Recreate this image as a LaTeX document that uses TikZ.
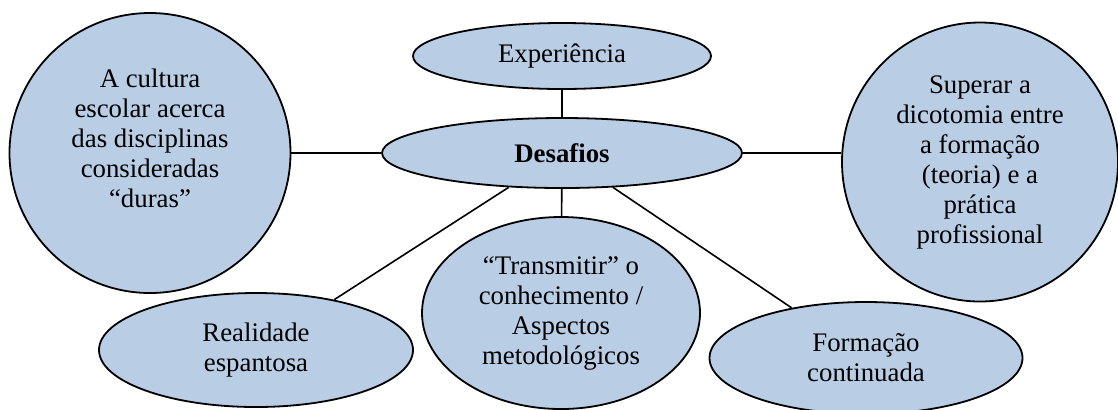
\documentclass[tikz,border=0pt]{standalone}
\usepackage{fontspec}
\setmainfont{Liberation Serif}
\usepackage{xcolor}
\usetikzlibrary{shapes,positioning}

\definecolor{bubblefill}{RGB}{185,205,229}

\begin{document}
\begin{tikzpicture}[x=0.5pt, y=-0.5pt,
    bubble/.style={ellipse, draw, line width=0.9pt, fill=bubblefill, inner sep=2pt,
        align=center, font=\fontsize{13.4}{15}\selectfont},
    link/.style={draw, line width=0.8pt}]
    \useasboundingbox (0,0) rectangle (1118,409);

    \node[bubble, minimum width=180pt, minimum height=35pt, font=\fontsize{13.4}{15}\selectfont\bfseries] (desafios) at (562,153) {Desafios};
    \node[bubble, minimum width=149pt, minimum height=33pt] (experiencia) at (562,56) {Experiência};

    % Side circles
    \node[bubble, minimum width=140.5pt, minimum height=140pt] (cultura) at (150,153)
        {A cultura\\ escolar acerca\\ das disciplinas\\ consideradas\\ “duras”\\ ~};
    \node[bubble, minimum width=138pt, minimum height=139.5pt] (superar) at (980,162)
        {Superar a\\ dicotomia entre\\ a formação\\ (teoria) e a\\ prática\\ profissional};

    % Lower row
    \node[bubble, minimum width=157pt, minimum height=57pt] (realidade) at (256,350)
        {Realidade\\ espantosa};
    \node[bubble, minimum width=139pt, minimum height=96pt] (transmitir) at (561,313)
        {“Transmitir” o\\ conhecimento /\\ Aspectos\\ metodológicos};
    \node[bubble, minimum width=156.5pt, minimum height=56pt] (formacao) at (866,358)
        {Formação\\ continuada};

    \draw[link] (experiencia) -- (desafios);
    \draw[link] (desafios) -- (cultura);
    \draw[link] (desafios.east) -- (desafios.east -| superar.west);
    \draw[link] (desafios) -- (realidade);
    \draw[link] (desafios) -- (transmitir);
    \draw[link] (desafios) -- (formacao);
\end{tikzpicture}
\end{document}
